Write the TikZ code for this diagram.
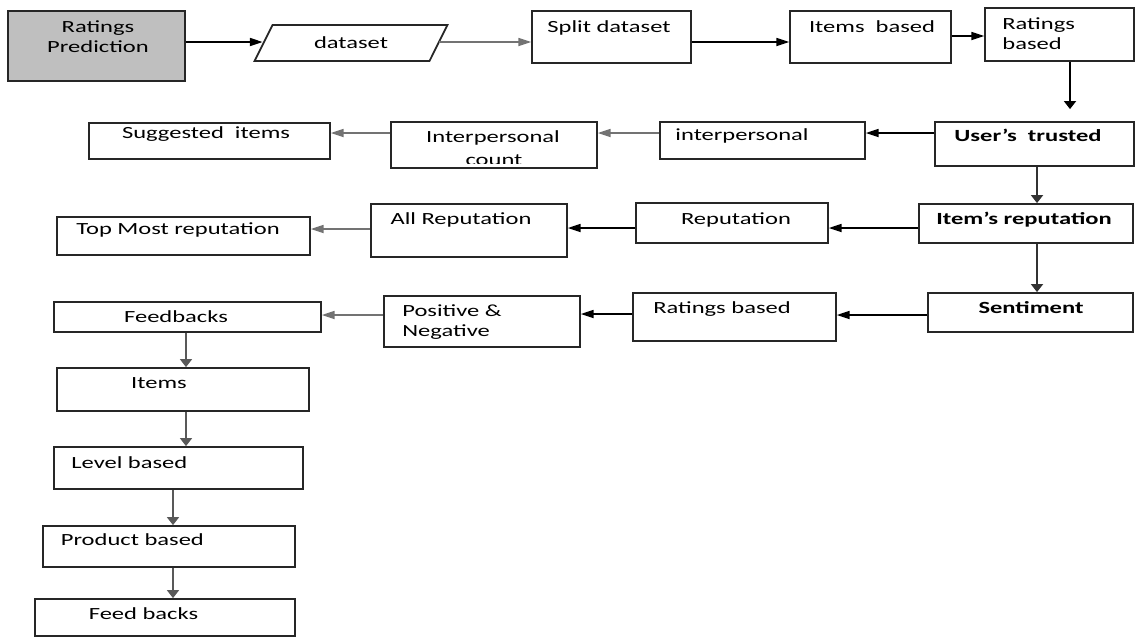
\documentclass[tikz,border=0pt]{standalone}
\usepackage{amsmath}
\usepackage{fontspec}
\setmainfont{Carlito}[FakeStretch=1.44]
\usetikzlibrary{shapes.geometric,fit,arrows.meta}

\begin{document}
\begin{tikzpicture}[x=0.02cm,y=-0.02cm,
                      box/.style={draw=black!85,line width=1pt,inner sep=0pt},
                      txt/.style={inner sep=0pt,font=\fontsize{9.7}{11.4}\selectfont,anchor=mid},
                      arr/.style={line width=0.8pt,-{Triangle[length=7.2pt,width=4.6pt]}},
                      arrv/.style={line width=1.1pt,-{Triangle[length=4.6pt,width=6.8pt]}},
                      arrg/.style={arr,black!55}]
                      \useasboundingbox (0,0) rectangle (1135,637);

                      \node[box,fill=black!25,fit={(8,11) (185,81)}] (rp) {};
                      \node[box,trapezium,trapezium left angle=64,trapezium right angle=116,trapezium stretches=true,
                            minimum width=3.87cm,minimum height=0.72cm,inner sep=2pt,
                            font=\fontsize{9.7}{11.4}\selectfont] (ds) at (351,43) {dataset};
                      \node[box,fit={(532,11) (691,63)}] (split) {};
                      \node[box,fit={(790,11) (951,63)}] (itemsb) {};
                      \node[box,fit={(985,8) (1134,61)}] (rbased) {};

                      \node[box,fit={(935,122) (1134,166)}] (trust) {};
                      \node[box,fit={(660,122) (865,159)}] (interp) {};
                      \node[box,fit={(391,122) (597,168)}] (icount) {};
                      \node[box,fit={(89,123) (330,159)}] (sugg) {};

                      \node[box,fit={(919,204) (1133,243)}] (itemrep) {};
                      \node[box,fit={(636,203) (828,243)}] (rep) {};
                      \node[box,fit={(371,204) (567,257)}] (allrep) {};
                      \node[box,fit={(57,217) (310,255)}] (topmost) {};

                      \node[box,fit={(928,293) (1133,332)}] (sent) {};
                      \node[box,fit={(633,293) (836,341)}] (rbtwo) {};
                      \node[box,fit={(384,296) (580,347)}] (posneg) {};
                      \node[box,fit={(54,302) (321,332)}] (feedb) {};

                      \node[box,fit={(57,368) (309,411)}] (itemstwo) {};
                      \node[box,fit={(54,447) (303,489)}] (level) {};
                      \node[box,fit={(43,526) (295,567)}] (product) {};
                      \node[box,fit={(35,599) (295,636)}] (fbtwo) {};

                      \node[txt,anchor=center,align=center] (rp-t) at (98,37) {Ratings\\Prediction};
                      \node[txt] (split-t) at (609,28.5) {Split dataset};
                      \node[txt] (itemsb-t) at (872,28.5) {Items~~based};
                      \node[txt,anchor=west,align=left] (rbased-t) at (1002,33.5) {Ratings\\based};

                      \node[txt,font=\fontsize{9.7}{11.4}\selectfont\bfseries] (trust-t) at (1028,137.5) {User’s~~trusted};
                      \node[txt] (interp-t) at (742,136.5) {interpersonal};
                      \node[txt] (icount-t) at (493,138.5) {Interpersonal};
                      \begin{scope}
                        \clip (391,122) rectangle (597,163);
                        \node[txt,anchor=base] (icount-u) at (494,165) {count};
                      \end{scope}
                      \node[txt] (sugg-t) at (206,134.5) {Suggested~~items};

                      \node[txt,font=\fontsize{9.7}{11.4}\selectfont\bfseries] (itemrep-t) at (1024,220.5) {Item’s reputation};
                      \node[txt] (rep-t) at (736,220.5) {Reputation};
                      \node[txt] (allrep-t) at (461,220.5) {All Reputation};
                      \node[txt] (topmost-t) at (178,230.5) {Top Most reputation};

                      \node[txt,font=\fontsize{9.7}{11.4}\selectfont\bfseries] (sent-t) at (1031,309.5) {Sentiment};
                      \node[txt] (rbtwo-t) at (722,309.5) {Ratings based};
                      \node[txt,anchor=west,align=left] (posneg-t) at (402,322.5) {Positive \&\\Negative};
                      \node[txt] (feedb-t) at (176,318.5) {Feedbacks};

                      \node[txt] (itemstwo-t) at (159,384.5) {Items};
                      \node[txt,anchor=mid west] (level-t) at (71,464.5) {Level based};
                      \node[txt,anchor=mid west] (product-t) at (60.5,541.5) {Product based};
                      \node[txt] (fbtwo-t) at (143.5,615.5) {Feed backs};

                      \draw[arr] (rp.east |- 0,42) -- (ds.west |- 0,42);
                      \draw[arrg] (ds.east |- 0,42) -- (split.west |- 0,42);
                      \draw[arr] (split.east |- 0,42) -- (itemsb.west |- 0,42);
                      \draw[arr] (itemsb.east |- 0,36) -- (rbased.west |- 0,36);
                      \draw[arrv,shorten >=0.24cm] (rbased.south -| 1070,0) -- (trust.north -| 1070,0);

                      \draw[arr] (trust.west |- 0,133) -- (interp.east |- 0,133);
                      \draw[arrg] (interp.west |- 0,133) -- (icount.east |- 0,133);
                      \draw[arrg] (icount.west |- 0,133) -- (sugg.east |- 0,133);
                      \draw[arrv,black!80] (trust.south -| 1037,0) -- (itemrep.north -| 1037,0);

                      \draw[arr] (itemrep.west |- 0,228) -- (rep.east |- 0,228);
                      \draw[arr] (rep.west |- 0,228) -- (allrep.east |- 0,228);
                      \draw[arrg] (allrep.west |- 0,229) -- (topmost.east |- 0,229);
                      \draw[arrv,black!80] (itemrep.south -| 1037,0) -- (sent.north -| 1037,0);

                      \draw[arr] (sent.west |- 0,315) -- (rbtwo.east |- 0,315);
                      \draw[arr] (rbtwo.west |- 0,314) -- (posneg.east |- 0,314);
                      \draw[arrg] (posneg.west |- 0,315) -- (feedb.east |- 0,315);

                      \draw[arrv,black!65] (feedb.south -| 186,0) -- (itemstwo.north -| 186,0);
                      \draw[arrv,black!65] (itemstwo.south -| 186,0) -- (level.north -| 186,0);
                      \draw[arrv,black!65] (level.south -| 173,0) -- (product.north -| 173,0);
                      \draw[arrv,black!65] (product.south -| 173,0) -- (fbtwo.north -| 173,0);
                \end{tikzpicture}
\end{document}
